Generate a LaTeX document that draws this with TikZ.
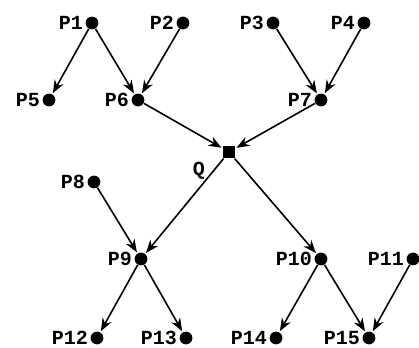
\documentclass[tikz,border=0pt]{standalone}
\usepackage{fontspec}
\setmonofont{Liberation Mono}
\usetikzlibrary{arrows.meta}
\begin{document}
\begin{tikzpicture}[x=0.5pt,y=-0.5pt,
  every label/.style={font=\ttfamily\bfseries\fontsize{10}{12}\selectfont,inner sep=1pt},
  dot/.style={circle,fill,inner sep=0pt,minimum size=6.4pt,label distance=2pt},
  qbox/.style={rectangle,fill,inner sep=0pt,minimum size=6.2pt},
  arr/.style={-{Stealth[length=6.5pt,width=5pt]},thick,shorten >=0.5pt}]
\useasboundingbox (0,0) rectangle (419,348);
% top row
\node[dot,label=left:P1] (p1) at (92,23) {};
\node[dot,label=left:P2] (p2) at (183,23) {};
\node[dot,label=left:P3] (p3) at (273,23) {};
\node[dot,label=left:P4] (p4) at (364,23) {};
% second row
\node[dot,label=left:P5] (p5) at (49,100) {};
\node[dot,label=left:P6] (p6) at (138,100) {};
\node[dot,label=left:P7] (p7) at (321,100) {};
% middle
\node[qbox,label={[label distance=8pt]200:Q}] (q) at (229,152) {};
\node[dot,label=left:P8] (p8) at (94,182) {};
% fourth row
\node[dot,label=left:P9] (p9) at (141,259) {};
\node[dot,label=left:P10] (p10) at (321,259) {};
\node[dot,label=left:P11] (p11) at (413,259) {};
% bottom row
\node[dot,label=left:P12] (p12) at (97,338) {};
\node[dot,label=left:P13] (p13) at (186,338) {};
\node[dot,label=left:P14] (p14) at (276,338) {};
\node[dot,label=left:P15] (p15) at (369,338) {};
\draw[arr] (p1)--(p5);\draw[arr] (p1)--(p6);\draw[arr] (p2)--(p6);
\draw[arr] (p3)--(p7);\draw[arr] (p4)--(p7);
\draw[arr] (p6)--(q);\draw[arr] (p7)--(q);
\draw[arr] (q)--(p9);\draw[arr] (q)--(p10);\draw[arr] (p8)--(p9);
\draw[arr] (p9)--(p12);\draw[arr] (p9)--(p13);
\draw[arr] (p10)--(p14);\draw[arr] (p10)--(p15);\draw[arr] (p11)--(p15);
\end{tikzpicture}
\end{document}
